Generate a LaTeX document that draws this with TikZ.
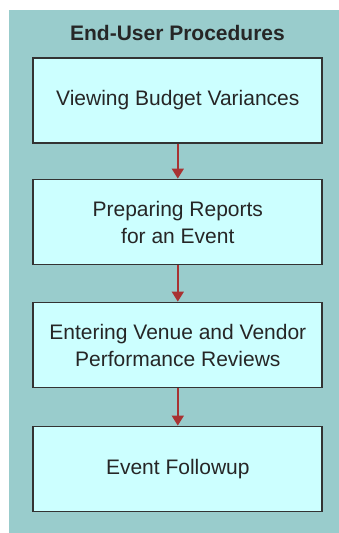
\documentclass[tikz,border=0pt]{standalone}
\usepackage{fontspec}
\setmainfont{Liberation Sans}
\usetikzlibrary{arrows.meta}
\definecolor{panel}{HTML}{99CCCC}
\definecolor{boxfill}{HTML}{CCFFFF}
\definecolor{boxline}{HTML}{333333}
\definecolor{arrowred}{HTML}{A83232}
\tikzset{
  procbox/.style={draw=boxline, line width=1.8pt, fill=boxfill, minimum width=289pt, minimum height=85pt, align=center, inner sep=0pt, font=\fontsize{21}{27}\selectfont, text=black!85},
  flow/.style={draw=arrowred, line width=1.5pt, -{Triangle[length=10pt,width=12pt]}}
}
\begin{document}
\begin{tikzpicture}[x=1pt,y=-1pt]
\useasboundingbox (0,0) rectangle (339,533);
\fill[panel] (9,10) rectangle (339,533);
\node[font=\bfseries\fontsize{21}{27}\selectfont, text=black!85] (title) at (177.5,33) {End-User Procedures};
\node[procbox] (b1) at (177.8,100.5) {Viewing Budget Variances};
\node[procbox] (b2) at (177.8,222) {Preparing Reports\\for an Event};
\node[procbox] (b3) at (177.8,345) {Entering Venue and Vendor\\Performance Reviews};
\node[procbox] (b4) at (177.8,469) {Event Followup};
\draw[flow] (b1) -- (b2);
\draw[flow] (b2) -- (b3);
\draw[flow] (b3) -- (b4);
\end{tikzpicture}
\end{document}
